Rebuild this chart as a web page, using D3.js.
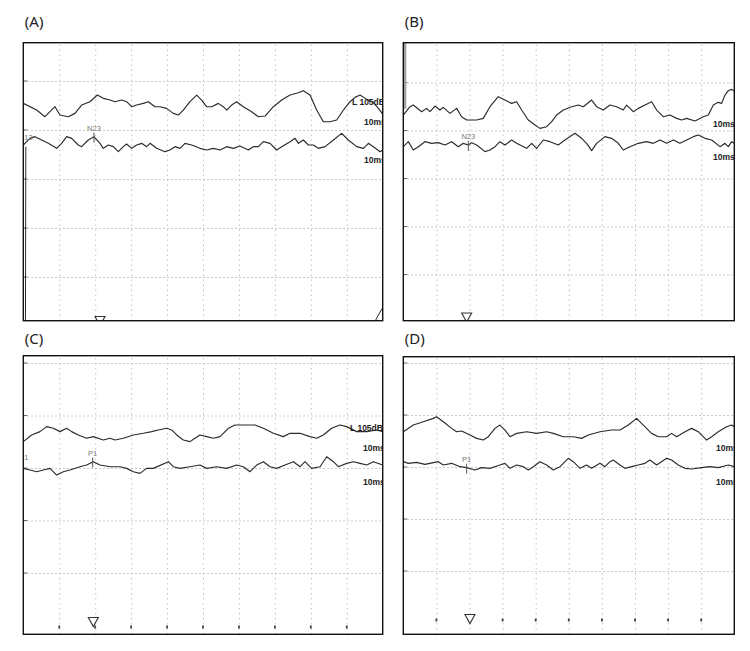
<!DOCTYPE html>
<html lang="en">
<head>
<meta charset="utf-8">
<title>VEMP recordings</title>
<style>
  body { margin: 0; background: #fff; }
  svg { display: block; }
  .frame { fill: none; stroke: #111; stroke-width: 1.4; }
  .grid path { display: none; }
  .vgrid line { stroke: #9a9a9a; stroke-width: 0.9; stroke-dasharray: 1,4; }
  .hgrid line { stroke: #a8a8a8; stroke-width: 0.8; stroke-dasharray: 1.5,2.5; }
  .trace { fill: none; stroke: #2b2b2b; stroke-width: 1.15; stroke-linejoin: round; }
  .plabel { font-family: "Noto Sans", sans-serif; font-size: 15px; fill: #222; }
  .tag { font-family: "Liberation Sans", Arial, sans-serif; font-weight: bold; font-size: 8.5px; fill: #222; }
  .peak { font-family: "Liberation Sans", Arial, sans-serif; font-size: 7.5px; fill: #777; }
</style>
</head>
<body>
<div id="chart"></div>
<script src="https://cdn.jsdelivr.net/npm/d3@7/dist/d3.min.js"></script>
<script>

// time in ms (10 divisions of 5 ms), amplitude in uV relative to each trace baseline
var timeTicks = [5, 10, 15, 20, 25, 30, 35, 40, 45];
var gridRows = [0, 1, 2, 3, 4];

var panelLabels = ["(A)", "(B)", "(C)", "(D)"];
var peakNames = ["N23", "N23", "P1", "P1"];
var peakTimes = [9.83, 9.82, 9.65, 9.57];
var cursorTimes = [10.67, 9.57, 9.74, 10.07];
var stimTags = ["L 105dB", "", "L 105dB", ""];
var sweepTag = "10ms";

var upperA = [[0,10],[1.86,-10],[3.01,-30],[4.41,0],[5.1,-25],[6.26,-30],[7.19,-20],[8.12,5],[9.28,15],[10.3,35],
  [11.13,25],[12.06,20],[12.76,15],[13.68,20],[14.38,15],[15.07,0],[15.77,5],[16.7,10],[17.39,15],[18.32,0],
  [19.02,0],[19.94,-5],[20.87,-20],[21.57,-25],[22.26,-10],[23.19,15],[24.12,35],[24.81,20],[25.51,0],[26.21,0],
  [27.13,10],[27.83,0],[28.29,-10],[28.99,5],[29.68,15],[30.61,0],[31.77,-15],[32.7,-30],[33.63,-28],[34.79,0],
  [35.95,20],[37.11,35],[38.27,42],[38.96,48],[39.89,35],[40.82,-10],[41.74,-45],[42.67,-45],[43.6,-40],[44.53,-10],
  [45.45,15],[46.15,28],[46.85,35],[47.77,22],[48.65,14],[49.4,-5],[50,-22]];
var lowerA = [[0,0],[0.93,20],[1.62,25],[2.55,15],[3.48,5],[4.64,-10],[5.33,5],[6.03,25],[6.73,20],[7.65,0],
  [8.12,-5],[9.04,15],[9.83,25],[10.67,5],[11.13,-10],[11.83,0],[12.52,-5],[13.22,-20],[13.91,-5],[14.38,3],
  [15.07,-10],[15.77,0],[16.47,5],[17.16,-5],[17.63,5],[18.55,-10],[19.71,-20],[20.41,-15],[21.1,-5],[21.8,-10],
  [22.5,5],[23.42,0],[24.58,-10],[25.51,-15],[26.44,-10],[27.37,-15],[28.29,-5],[29.22,-10],[30.15,-3],[31.31,-15],
  [32,-5],[32.7,-5],[33.4,10],[34.32,5],[35.25,-15],[35.95,-5],[37.11,10],[37.8,20],[38.27,5],[38.96,15],
  [39.66,0],[40.35,0],[41.05,-10],[41.98,-5],[43.14,15],[44.29,35],[45.22,15],[46.38,-5],[47.31,-10],[48.01,5],
  [48.7,-5],[49.63,-20],[50,-15]];
var artifactA = [[0.35,-5],[0.3,-530]];
var tailA = [[48.9,-530],[49.4,-510],[50,-488]];

var upperB = [[0,-10],[1.01,15],[1.51,20],[2.77,0],[3.52,10],[4.03,0],[4.78,17],[5.54,5],[6.04,13],[7.05,-5],
  [8.06,10],[8.81,-15],[9.57,-25],[11.08,-25],[12.08,-20],[13.09,15],[14.35,45],[15.36,35],[16.36,25],[17.12,30],
  [17.88,5],[18.88,-25],[19.89,-40],[20.64,-50],[21.65,-45],[22.41,-30],[23.16,-10],[24.17,5],[25.43,15],[26.44,20],
  [27.19,15],[28.45,35],[29.2,15],[30.21,5],[31.22,20],[32.23,15],[33.23,5],[33.74,20],[34.74,0],[35.5,10],
  [36.51,20],[37.51,30],[38.27,5],[39.27,-15],[40.28,-10],[41.29,-20],[42.04,-25],[42.8,-20],[44.06,-28],[45.32,-15],
  [46.07,-10],[46.83,20],[47.58,28],[48.09,25],[48.59,50],[49.09,63],[49.6,67],[50,62]];
var lowerB = [[0,-8],[0.76,7],[1.51,-18],[2.27,-8],[3.27,7],[4.28,2],[5.29,4],[6.29,-3],[7.3,7],[8.31,-8],
  [9.06,2],[9.82,-3],[10.32,4],[11.08,-3],[12.34,-23],[13.09,-18],[13.85,-8],[14.6,7],[15.36,-3],[16.36,12],
  [17.12,2],[18.63,-13],[19.39,2],[20.14,-13],[21.15,12],[22.16,7],[23.41,-3],[24.42,12],[25.93,32],[26.94,17],
  [27.69,2],[28.45,-20],[29.2,2],[30.46,22],[31.47,17],[32.48,2],[33.23,-18],[34.24,-8],[35.5,2],[36.76,7],
  [37.76,2],[38.77,12],[39.78,2],[40.79,12],[41.79,2],[42.8,12],[43.81,22],[44.56,27],[45.57,17],[46.58,12],
  [47.84,-8],[48.59,2],[49.09,-8],[49.6,7],[50,2]];

var upperC = [[0,-25],[1.16,-5],[2.32,5],[3.25,20],[4.17,15],[5.1,5],[6.03,15],[6.73,5],[7.65,-5],[8.81,-15],
  [9.74,-10],[11.13,-20],[12.06,-15],[12.76,-20],[13.91,-15],[15.31,-5],[16.7,0],[17.86,5],[18.78,10],[19.94,15],
  [20.64,10],[21.34,-5],[22.26,-20],[23.19,-25],[23.89,-15],[24.58,-5],[25.51,-10],[26.44,-15],[27.37,-10],[28.53,15],
  [29.45,25],[31.08,25],[32.24,25],[33.4,15],[34.79,0],[36.18,-10],[37.11,0],[38.5,0],[39.89,-10],[40.82,-15],
  [41.74,-5],[42.9,15],[44.06,25],[44.99,20],[46.38,5],[47.77,5],[49.17,10],[50,5]];
var lowerC = [[0,-5],[0.93,-10],[1.86,-15],[2.78,-10],[3.71,-5],[4.64,-25],[5.57,-15],[6.49,-10],[7.88,0],[8.81,5],
  [9.74,15],[10.67,5],[12.06,0],[13.45,0],[14.38,-5],[15.31,-15],[16.23,-20],[17.16,-5],[18.09,-5],[20.18,15],
  [20.87,0],[21.8,-5],[23.19,0],[24.58,5],[25.51,-5],[26.9,0],[28.29,-5],[29.68,5],[30.61,0],[31.54,-15],
  [32.47,5],[33.4,15],[34.32,0],[35.25,-5],[36.41,5],[37.57,15],[38.5,0],[39.19,15],[40.12,-5],[41.28,0],
  [42.21,30],[43.14,15],[43.83,0],[44.99,10],[45.92,15],[46.85,10],[47.77,5],[48.7,15],[50,5]];

var upperD = [[0,0],[1.51,20],[3.02,30],[4.53,40],[5.04,45],[6.04,30],[7.3,10],[8.06,0],[8.81,2],[10.07,-10],
  [11.08,-20],[12.08,-25],[12.84,-15],[13.85,10],[14.6,20],[15.36,5],[16.11,-15],[17.12,-5],[18.63,0],[20.14,-5],
  [21.65,0],[22.66,-5],[24.17,-15],[25.68,-15],[26.94,-20],[27.95,-10],[29.71,0],[31.47,5],[32.73,5],[33.99,20],
  [35.25,40],[36.25,20],[37.51,-5],[38.52,-15],[39.78,-15],[40.53,-5],[41.29,-15],[42.55,0],[43.55,10],[44.56,0],
  [45.82,-25],[46.58,-15],[47.58,0],[48.84,15],[49.6,20],[50,15]];
var lowerD = [[0,10],[0.76,5],[2.01,8],[3.27,2],[5.29,10],[6.04,0],[7.3,5],[8.56,-5],[9.57,-8],[10.83,-15],
  [11.83,-8],[13.09,-10],[14.6,0],[15.36,5],[16.11,-10],[17.12,0],[18.13,-5],[18.88,-15],[19.64,-5],[20.64,10],
  [21.65,0],[22.66,-15],[23.67,-5],[24.92,20],[25.68,10],[26.69,-10],[27.69,0],[28.45,-10],[29.71,5],[30.46,-5],
  [31.22,10],[31.72,15],[32.73,0],[33.48,-10],[34.49,-5],[35.5,0],[36.51,5],[37.26,15],[38.27,0],[39.78,20],
  [40.53,15],[41.54,0],[42.55,-10],[43.55,-12],[45.07,-8],[46.32,-5],[47.58,-8],[49.09,0],[50,-5]];

var traces = [[upperA, lowerA], [upperB, lowerB], [upperC, lowerC], [upperD, lowerD]];

// panel geometry (pixels)
var layout = [
  { left: 23.3, right: 382.7, top: 42.7, bottom: 320.7, labelY: 27, gridTop: 81, gridStep: 49,
    base: [106.7, 145], tagX: [352, 364], tagY: [105, 125, 163], cursorTop: 316.5, marks: null },
  { left: 403.3, right: 734.3, top: 42.7, bottom: 320.7, labelY: 27, gridTop: 82.5, gridStep: 48,
    base: [111.7, 144], tagX: [713, 713], tagY: [0, 127, 160], cursorTop: 313, marks: null },
  { left: 23.3, right: 382.7, top: 355.7, bottom: 634.3, labelY: 343.5, gridTop: 363, gridStep: 52.5,
    base: [433.3, 466.7], tagX: [350, 363], tagY: [431, 451, 485], cursorTop: 617.5, marks: [625.5, 628.5] },
  { left: 403.3, right: 734.3, top: 356.7, bottom: 634.3, labelY: 343.5, gridTop: 363, gridStep: 52,
    base: [431.7, 465], tagX: [716, 716], tagY: [0, 451, 485], cursorTop: 614.5, marks: [618.5, 621.5] }
];

var svg = d3.select("#chart").append("svg")
    .attr("width", 750)
    .attr("height", 651);

layout.forEach(function (p, i) {

    var x = d3.scaleLinear().domain([0, 50]).range([p.left, p.right]);
    var yUp = d3.scaleLinear().domain([-150, 150]).range([p.base[0] + 50, p.base[0] - 50]);
    var yLow = d3.scaleLinear().domain([-150, 150]).range([p.base[1] + 50, p.base[1] - 50]);
    var gy = d3.scaleLinear().domain([0, 1]).range([p.gridTop, p.gridTop + p.gridStep]);

    var clipId = "clip" + i;
    svg.append("clipPath").attr("id", clipId)
        .append("rect")
        .attr("x", p.left).attr("y", p.top)
        .attr("width", p.right - p.left).attr("height", p.bottom - p.top);

    svg.append("text")
        .attr("class", "plabel")
        .attr("x", p.left + 1.5)
        .attr("y", p.labelY)
        .text(panelLabels[i]);

    var g = svg.append("g").attr("clip-path", "url(#" + clipId + ")");

    // dotted grid
    g.append("g")
        .attr("class", "grid vgrid")
        .attr("transform", "translate(0," + p.bottom + ")")
        .call(d3.axisBottom(x).tickValues(timeTicks).tickSize(-(p.bottom - p.top)).tickFormat(""));

    g.append("g")
        .attr("class", "grid hgrid")
        .attr("transform", "translate(" + p.left + ",0)")
        .call(d3.axisLeft(gy).tickValues(gridRows).tickSize(-(p.right - p.left)).tickFormat(""));

    // short marks on the left edge
    g.selectAll(".edge")
        .data(gridRows)
        .enter().append("line")
            .attr("x1", p.left).attr("x2", p.left + 4)
            .attr("y1", function (d) { return gy(d); })
            .attr("y2", function (d) { return gy(d); })
            .style("stroke", "#666").style("stroke-width", 1);

    if (p.marks) {
        g.selectAll(".bmark")
            .data(timeTicks)
            .enter().append("line")
                .attr("x1", function (d) { return x(d); })
                .attr("x2", function (d) { return x(d); })
                .attr("y1", p.marks[0]).attr("y2", p.marks[1])
                .style("stroke", "#444").style("stroke-width", 1.8);
    }

    if (i == 1) {
        g.append("rect")
            .attr("x", p.left).attr("y", p.top)
            .attr("width", 3).attr("height", 66)
            .style("fill", "#a0a0a0");
    }

    var lineUp = d3.line().x(function (d) { return x(d[0]); }).y(function (d) { return yUp(d[1]); });
    var lineLow = d3.line().x(function (d) { return x(d[0]); }).y(function (d) { return yLow(d[1]); });

    g.append("path").attr("class", "trace").attr("d", lineUp(traces[i][0]));
    g.append("path").attr("class", "trace").attr("d", lineLow(traces[i][1]));

    if (i == 0) {
        g.append("path").attr("class", "trace").style("stroke-width", 1).attr("d", lineLow(artifactA));
        g.append("path").attr("class", "trace").style("stroke-width", 1).attr("d", lineLow(tailA));
        g.append("text").attr("class", "peak").attr("x", p.left + 1).attr("y", 140).text("13");
    }
    if (i == 2) {
        g.append("text").attr("class", "peak").attr("x", p.left + 1).attr("y", 460).text("1");
    }

    // peak marker
    var pt = peakTimes[i];
    var lowSeries = traces[i][1];
    var near = lowSeries.reduce(function (a, b) { return Math.abs(b[0] - pt) < Math.abs(a[0] - pt) ? b : a; });
    var py = yLow(near[1]);
    g.append("line")
        .attr("x1", x(pt)).attr("x2", x(pt))
        .attr("y1", py - 4).attr("y2", py + 6)
        .style("stroke", "#555").style("stroke-width", 1);
    g.append("text")
        .attr("class", "peak")
        .attr("text-anchor", "middle")
        .attr("x", x(pt))
        .attr("y", py - 6)
        .text(peakNames[i]);

    // stimulus cursor
    var cx = x(cursorTimes[i]);
    g.append("path")
        .attr("d", "M" + (cx - 5) + "," + p.cursorTop + "L" + (cx + 5) + "," + p.cursorTop + "L" + cx + "," + (p.cursorTop + 9) + "Z")
        .style("fill", "#fff").style("stroke", "#333").style("stroke-width", 1.1);

    // tags
    if (stimTags[i]) {
        g.append("text").attr("class", "tag").attr("x", p.tagX[0]).attr("y", p.tagY[0]).text(stimTags[i]);
    }
    g.append("text").attr("class", "tag").attr("x", p.tagX[1]).attr("y", p.tagY[1]).text(sweepTag);
    g.append("text").attr("class", "tag").attr("x", p.tagX[1]).attr("y", p.tagY[2]).text(sweepTag);

    svg.append("rect")
        .attr("class", "frame")
        .attr("x", p.left).attr("y", p.top)
        .attr("width", p.right - p.left).attr("height", p.bottom - p.top);
});

</script>
</body>
</html>
